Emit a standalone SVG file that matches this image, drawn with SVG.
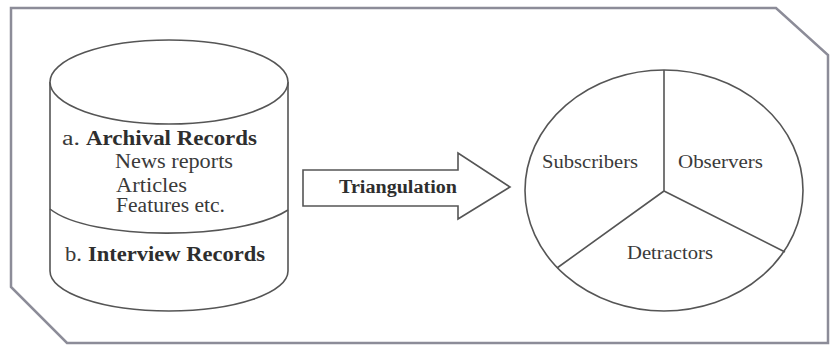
<svg xmlns="http://www.w3.org/2000/svg" width="830" height="347" viewBox="0 0 830 347">
  <style>
    .frame { fill: #ffffff; stroke: #8c8c98; stroke-width: 2.5; }
    .shape { fill: none; stroke: #555555; stroke-width: 1.6; }
    .fillw { fill: #ffffff; stroke: #555555; stroke-width: 1.6; }
    .t { font-family: 'Liberation Serif', Tinos, 'Times New Roman', serif; fill: #3a3a3a; font-size: 20px; }
    .b { font-weight: bold; fill: #2e2e2e; }
    .s { font-size: 18px; }
  </style>

  <!-- page frame with clipped corners -->
  <polygon class="frame" points="11,8 776,8 828,55 828,343 67,343 11,287"/>

  <!-- records store (cylinder) -->
  <g id="records">
    <path class="fillw" d="M50,82 L50,271 A119,40 0 0 0 288,271 L288,82"/>
    <ellipse class="fillw" cx="169" cy="82" rx="119" ry="42"/>
    <path class="shape" d="M50,209 C90,241 240,241 288,210"/>
    <text class="t" x="62" y="145" textLength="18" lengthAdjust="spacingAndGlyphs">a.</text>
    <text class="t b" x="86" y="145" textLength="171" lengthAdjust="spacingAndGlyphs">Archival Records</text>
    <text class="t" x="115" y="168" textLength="118" lengthAdjust="spacingAndGlyphs">News reports</text>
    <text class="t" x="116" y="192" textLength="71" lengthAdjust="spacingAndGlyphs">Articles</text>
    <text class="t" x="116" y="212" textLength="109" lengthAdjust="spacingAndGlyphs">Features etc.</text>
    <text class="t" x="65" y="261" textLength="17" lengthAdjust="spacingAndGlyphs">b.</text>
    <text class="t b" x="88" y="261" textLength="177" lengthAdjust="spacingAndGlyphs">Interview Records</text>
  </g>

  <!-- block arrow -->
  <g id="connectors">
    <g id="triangulation">
      <polygon class="fillw" points="303,170 458,170 458,153 510,187 458,219 458,206 303,206"/>
      <text class="t b s" x="339" y="193" textLength="118" lengthAdjust="spacingAndGlyphs">Triangulation</text>
    </g>
  </g>

  <!-- three-way split circle -->
  <g id="groups">
    <ellipse class="fillw" cx="664" cy="190.5" rx="139" ry="120.5"/>
    <path class="shape" d="M664,70 L664,191 M664,191 L557,268 M664,191 L785,252"/>
    <text class="t s" x="542" y="168" textLength="96" lengthAdjust="spacingAndGlyphs">Subscribers</text>
    <text class="t s" x="678" y="168" textLength="85" lengthAdjust="spacingAndGlyphs">Observers</text>
    <text class="t s" x="627" y="259" textLength="86" lengthAdjust="spacingAndGlyphs">Detractors</text>
  </g>
</svg>
